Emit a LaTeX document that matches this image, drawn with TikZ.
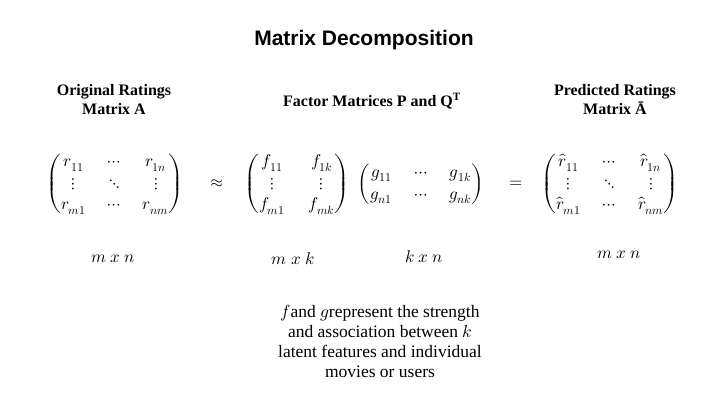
\documentclass[tikz,border=0pt]{standalone}
\usepackage{amsmath}
\usepackage{fontspec}
\usepackage{unicode-math}
\setmainfont{Liberation Serif}
\setmathfont{Latin Modern Math}
\newfontfamily\titlefont{Liberation Sans}
\begin{document}
\begin{tikzpicture}[x=1pt,y=-1pt,
head/.style={font=\bfseries\fontsize{16}{19}\selectfont,align=center},
mat/.style={font=\fontsize{17}{21.5}\selectfont,inner sep=0pt},
dims/.style={font=\fontsize{17}{20}\selectfont},
note/.style={font=\fontsize{17.5}{20}\selectfont,align=center}]
\useasboundingbox(0,0)rectangle(728,413);
\node[font=\titlefont\bfseries\fontsize{21}{25}\selectfont](title)at(364,40){Matrix Decomposition};
\node[head](hA)at(114,100){Original Ratings\\Matrix A};
\node[head](hPQ)at(372,101){Factor Matrices P and Q\textsuperscript{T}};
\node[head](hAh)at(615,100){Predicted Ratings\\Matrix Ā};
% matrices
\node[mat](A)at(115,184){$\setlength\arraycolsep{11pt}\begin{pmatrix}r_{11}&\cdots&r_{1n}\\\vdots&\ddots&\vdots\\r_{m1}&\cdots&r_{nm}\end{pmatrix}$};
\node[mat](approx)at(217,184){$\approx$};
\node[mat](P)at(297,184){$\setlength\arraycolsep{12pt}\begin{pmatrix}f_{11}&f_{1k}\\\vdots&\vdots\\f_{m1}&f_{mk}\end{pmatrix}$};
\node[mat](Q)at(421,184){$\setlength\arraycolsep{11pt}\begin{pmatrix}g_{11}&\cdots&g_{1k}\\g_{n1}&\cdots&g_{nk}\end{pmatrix}$};
\node[mat](eq)at(516,184){$=$};
\node[mat](Ah)at(610,184){$\setlength\arraycolsep{11pt}\begin{pmatrix}\hat{r}_{11}&\cdots&\hat{r}_{1n}\\\vdots&\ddots&\vdots\\\hat{r}_{m1}&\cdots&\hat{r}_{nm}\end{pmatrix}$};
% sizes
\node[dims](dA)at(113,259){$m\ x\ n$};
\node[dims](dP)at(293,259){$m\ x\ k$};
\node[dims](dQ)at(424,257){$k\ x\ n$};
\node[dims](dAh)at(619,255){$m\ x\ n$};
\node[note](note)at(380,341){$f$and $g$represent the strength\\and association between $k$\\latent features and individual\\movies or users};
\end{tikzpicture}
\end{document}
